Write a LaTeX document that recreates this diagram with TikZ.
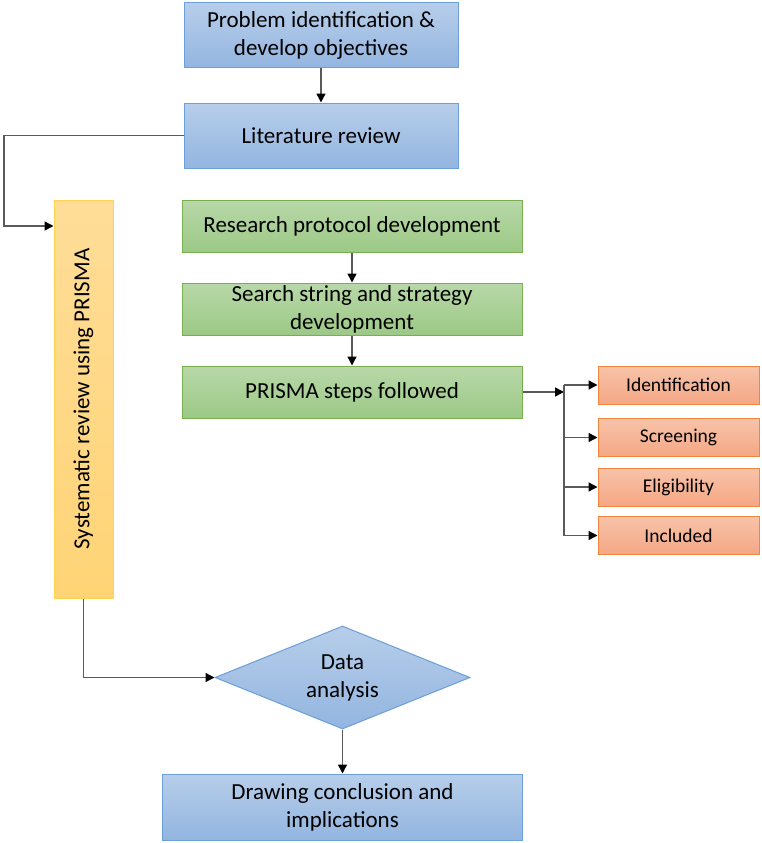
\documentclass[tikz,border=0pt]{standalone}
\usepackage{fontspec}
\setmainfont{Carlito}
\usetikzlibrary{shapes.geometric,arrows.meta,calc}
\definecolor{bluetop}{HTML}{B7CEEA}
\definecolor{bluebot}{HTML}{93B5E0}
\definecolor{blueline}{HTML}{6A9FD8}
\definecolor{greentop}{HTML}{B8D8A8}
\definecolor{greenbot}{HTML}{9CC986}
\definecolor{greenline}{HTML}{78B04F}
\definecolor{orntop}{HTML}{F8C3A9}
\definecolor{ornbot}{HTML}{F4A785}
\definecolor{ornline}{HTML}{EE8640}
\definecolor{yeltop}{HTML}{FFDD98}
\definecolor{yelbot}{HTML}{FFD476}
\definecolor{yelline}{HTML}{FFD34F}
\definecolor{conn}{HTML}{5A5A5A}
\tikzset{
  mainfont/.style={font=\fontsize{23}{28}\selectfont},
  bluebox/.style={draw=blueline, line width=1pt, top color=bluetop, bottom color=bluebot, inner sep=0pt, align=center, mainfont},
  greenbox/.style={draw=greenline, line width=1pt, top color=greentop, bottom color=greenbot, inner sep=0pt, align=center, minimum width=340pt, minimum height=52pt, mainfont},
  ornbox/.style={draw=ornline, line width=1pt, top color=orntop, bottom color=ornbot, inner sep=0pt, align=center, minimum width=161pt, minimum height=38pt, font=\fontsize{19.5}{23}\selectfont},
  yelbox/.style={draw=yelline, line width=1pt, top color=yeltop, bottom color=yelbot, inner sep=0pt, minimum width=59pt, minimum height=398pt},
  conline/.style={draw=conn, line width=1.4pt},
  arr/.style={conline, -{Triangle[length=9pt,width=9pt,fill=black,color=black]}}
}
\begin{document}
\begin{tikzpicture}[x=1pt,y=-1pt]
\useasboundingbox[fill=white] (0,0) rectangle (762,843);
\node[bluebox, minimum width=274pt, minimum height=65pt] (b1) at (321,35.5) {Problem identification \&\\develop objectives};
\node[bluebox, minimum width=274pt, minimum height=65pt] (b2) at (321,135.5) {Literature review};
\node[yelbox] (yel) at (83.5,399) {};
\node[rotate=90, mainfont] (yt) at (83.5,399) {Systematic review using PRISMA};
\node[greenbox] (g1) at (352,226) {Research protocol development};
\node[greenbox] (g2) at (352,309) {Search string and strategy\\development};
\node[greenbox] (g3) at (352,392) {PRISMA steps followed};
\node[ornbox] (o1) at (678.5,385) {Identification};
\node[ornbox] (o2) at (678.5,437.5) {Screening};
\node[ornbox] (o3) at (678.5,487) {Eligibility};
\node[ornbox] (o4) at (678.5,535.5) {Included};
\node[bluebox, diamond, aspect=2.48, minimum width=255pt, minimum height=103pt] (dia) at (342.5,677.5) {Data\\analysis};
\node[bluebox, minimum width=360pt, minimum height=66pt] (bot) at (342.5,807) {Drawing conclusion and\\implications};
\coordinate (c1) at (4,135.5);
\coordinate (jn) at (564,392);
% connectors
\draw[arr] (b1.south) -- (b2.north);
\draw[arr] (b2.west) -- (c1) |- (yel.west |- g1.west);
\draw[arr] (g1.south) -- (g2.north);
\draw[arr] (g2.south) -- (g3.north);
\draw[arr] (g3.east) -- (jn);
\draw[conline] (jn |- o1.west) -- (jn |- o4.west);
\draw[arr] (jn |- o1.west) -- (o1.west);
\draw[arr] (jn |- o2.west) -- (o2.west);
\draw[arr] (jn |- o3.west) -- (o3.west);
\draw[arr] (jn |- o4.west) -- (o4.west);
\draw[arr] (yel.south) |- (dia.west);
\draw[arr] (dia.south) -- (bot.north);
\end{tikzpicture}
\end{document}
